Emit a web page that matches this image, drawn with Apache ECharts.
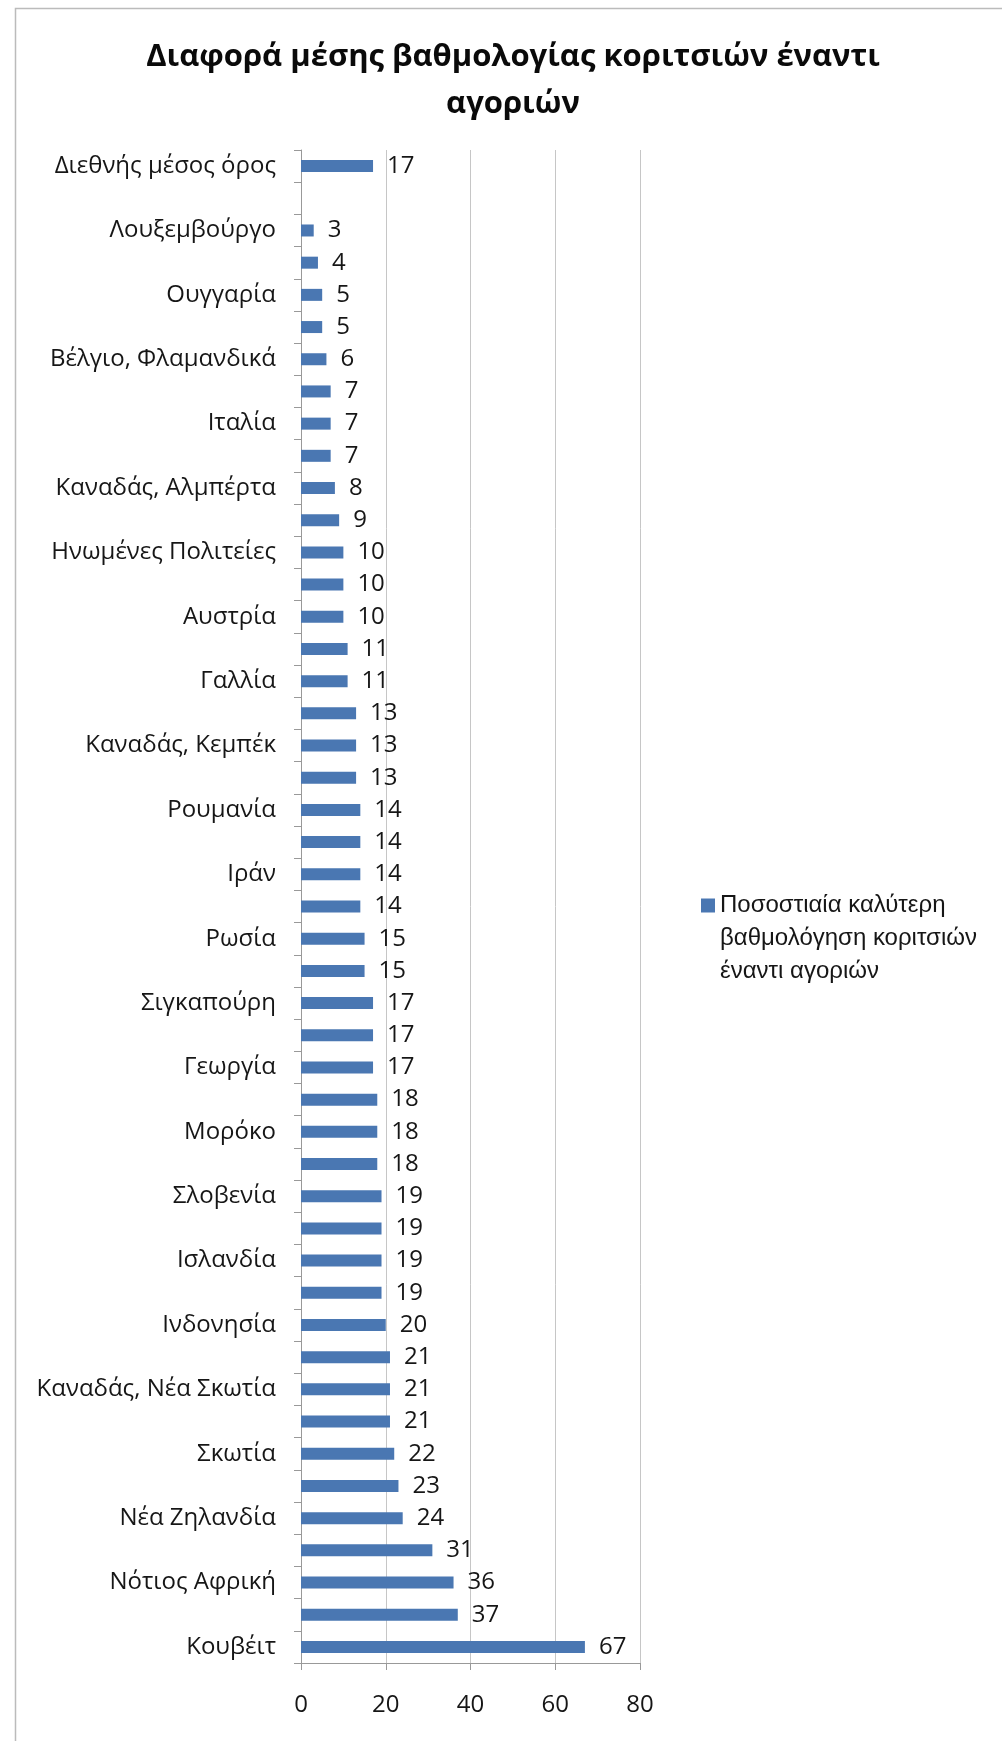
<!DOCTYPE html>
<html>
<head>
<meta charset="utf-8">
<script src="https://cdn.jsdelivr.net/npm/echarts@6/dist/echarts.min.js"></script>
<style>
  html, body { margin: 0; padding: 0; background: #fff; }
  #chart { width: 1002px; height: 1741px; }
</style>
</head>
<body>
<div id="chart"></div>
<script>
// only every other country name is printed in the original, the rest stay blank
const countries = [
  'Διεθνής μέσος όρος', '',
  'Λουξεμβούργο', '', 'Ουγγαρία', '', 'Βέλγιο, Φλαμανδικά', '', 'Ιταλία', '',
  'Καναδάς, Αλμπέρτα', '', 'Ηνωμένες Πολιτείες', '', 'Αυστρία', '', 'Γαλλία', '',
  'Καναδάς, Κεμπέκ', '', 'Ρουμανία', '', 'Ιράν', '', 'Ρωσία', '', 'Σιγκαπούρη', '',
  'Γεωργία', '', 'Μορόκο', '', 'Σλοβενία', '', 'Ισλανδία', '', 'Ινδονησία', '',
  'Καναδάς, Νέα Σκωτία', '', 'Σκωτία', '', 'Νέα Ζηλανδία', '', 'Νότιος Αφρική', '',
  'Κουβέιτ'
]
const girlsAdvantage = [
  17, null,
  3, 4, 5, 5, 6, 7, 7, 7, 8, 9, 10, 10, 10, 11, 11, 13, 13, 13, 14, 14, 14, 14,
  15, 15, 17, 17, 17, 18, 18, 18, 19, 19, 19, 19, 20, 21, 21, 21, 22, 23, 24,
  31, 36, 37, 67
]
const seriesName = 'Ποσοστιαία καλύτερη\nβαθμολόγηση κοριτσιών\nέναντι αγοριών'
const titleText = 'Διαφορά μέσης βαθμολογίας κοριτσιών έναντι\nαγοριών'

const FONT = '"Open Sans", "Noto Sans", sans-serif'
const textColor = '#161616'
const gridColor = '#c6c6c6'

const chart = echarts.init(document.getElementById('chart'))
chart.setOption({
  animation: false,
  backgroundColor: '#fff',
  color: ['#4a77b2'],
  title: {
    text: titleText,
    left: 508,
    top: 29,
    textAlign: 'center',
    textStyle: {
      fontFamily: FONT,
      fontWeight: 'bold',
      fontSize: 31,
      lineHeight: 47,
      color: '#0a0a0a',
    },
  },
  legend: {
    left: 696,
    top: 818,
    itemWidth: 14,
    itemHeight: 14,
    itemGap: 0,
    icon: 'rect',
    selectedMode: false,
    // two blank lines in front so the marker sits beside the first line
    formatter: (name) => '\n\n' + name,
    textStyle: {
      fontFamily: '"Liberation Sans", Arial, sans-serif',
      fontSize: 24,
      lineHeight: 33,
      color: textColor,
    },
  },
  grid: {
    left: 301,
    right: 362,
    top: 150,
    bottom: 78,
  },
  xAxis: {
    type: 'value',
    min: 0,
    max: 80,
    interval: 20,
    axisLine: { show: true, lineStyle: { color: '#999', width: 1 } },
    axisTick: { show: true, length: 7, lineStyle: { color: '#999' } },
    axisLabel: {
      fontFamily: FONT,
      fontSize: 24,
      color: textColor,
      margin: 30,
    },
    splitLine: { show: true, lineStyle: { color: gridColor, width: 1 } },
  },
  yAxis: {
    type: 'category',
    inverse: true,
    data: countries,
    axisLine: { show: true, lineStyle: { color: '#999', width: 1 } },
    axisTick: { show: true, length: 7, interval: 0, lineStyle: { color: '#999' } },
    axisLabel: {
      interval: 0,
      fontFamily: FONT,
      fontSize: 24,
      color: textColor,
      margin: 25,
    },
    splitLine: { show: false },
  },
  series: [
    {
      name: seriesName,
      type: 'bar',
      data: girlsAdvantage,
      barWidth: 12,
      label: {
        show: true,
        position: 'right',
        distance: 14,
        fontFamily: FONT,
        fontSize: 24,
        color: textColor,
      },
    },
  ],
  graphic: [
    {
      type: 'rect',
      left: 13,
      top: 6,
      shape: { width: 1000, height: 1745 },
      style: { fill: 'none', stroke: '#bbb', lineWidth: 1.5 },
      silent: true,
      z: -1,
    },
  ],
})
</script>
</body>
</html>
